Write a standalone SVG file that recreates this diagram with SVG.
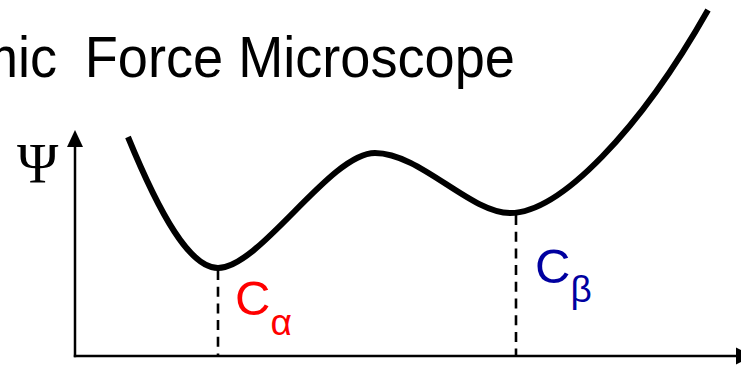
<svg xmlns="http://www.w3.org/2000/svg" width="741" height="366" viewBox="0 0 741 366">
<style>
.title{font-family:"Liberation Sans",Arial,sans-serif;font-size:57px;fill:#000}
.axis{stroke:#000;stroke-width:2.5;fill:none}
.drop{stroke:#000;stroke-width:2.6;stroke-dasharray:10,6.7;fill:none}
.curve{stroke:#000;stroke-width:6;fill:none;stroke-linecap:butt}
.lbl{font-family:"Liberation Sans",Arial,sans-serif;font-size:49px}
.sub{font-size:37px}
.psi{font-family:"Liberation Serif","Times New Roman",serif;font-size:56px;fill:#000}
</style>
<rect width="741" height="366" fill="#fff"/>
<g id="title"><text class="title" transform="translate(0,77) scale(0.95,1)" x="-28.5" y="0">mic <tspan x="89.2">Force Microscope</tspan></text></g>
<g id="connectors">
<path class="axis" d="M75,357.2 L75,140"/>
<path d="M67,147 L75,130 L83,147 Z" fill="#000"/>
<path class="axis" d="M73.8,356 L738,356"/>
<path d="M736,347.5 L753,356 L736,364.5 Z" fill="#000"/>
<path class="drop" d="M218,270 L218,356"/>
<path class="drop" d="M516,215 L516,356"/>
</g>
<g id="curve">
<path class="curve" d="M128,137 C160,215 190,268 218,268 C260,268 330,153 375,153 C420,153 470,213 510,213 C560,213 640,130 708,10"/>
</g>
<g id="psi-label"><text class="psi" x="17" y="183">Ψ</text></g>
<g id="c-alpha"><text class="lbl" x="235" y="315" fill="#ff0000">C<tspan class="sub" dy="20">α</tspan></text></g>
<g id="c-beta"><text class="lbl" x="535" y="283" fill="#0000a0">C<tspan class="sub" dy="19">β</tspan></text></g>
</svg>
